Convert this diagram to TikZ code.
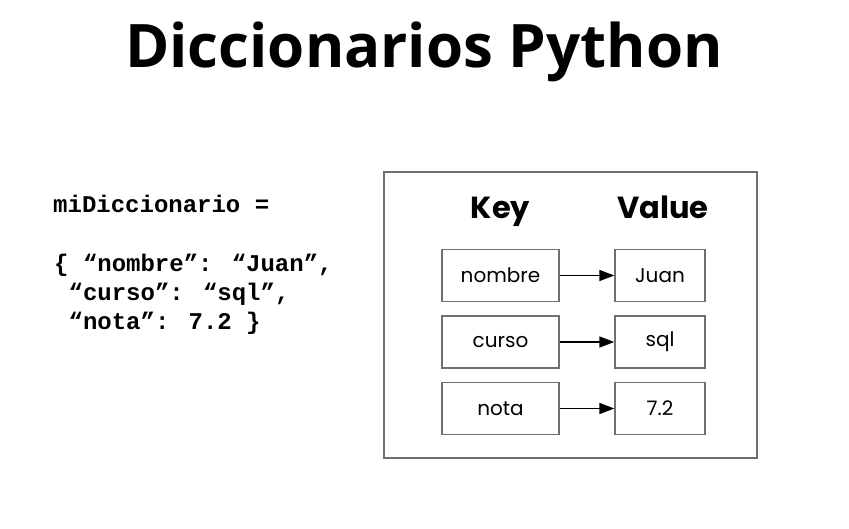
\documentclass[tikz,border=0pt]{standalone}
\usepackage{fontspec}
\setmainfont{Poppins}
\newfontfamily\titlefont{Open Sans}
\newfontfamily\codefont{Liberation Mono}
\usetikzlibrary{arrows.meta}
\definecolor{boxgray}{HTML}{707070}
\begin{document}
\begin{tikzpicture}[x=1pt,y=-1pt,
  cell/.style={draw=boxgray,line width=1.4pt,minimum width=117pt,minimum height=52pt,inner sep=0pt,font=\fontsize{20}{20}\selectfont},
  valcell/.style={cell,minimum width=90pt},
  link/.style={line width=1.6pt,-{Triangle[length=15pt,width=11pt]}},
  codeline/.style={anchor=base west,inner sep=0pt,font=\codefont\bfseries\fontsize{24}{24}\selectfont},
  heading/.style={anchor=base,inner sep=0pt,font=\bfseries\fontsize{30.5}{30}\selectfont}]
\useasboundingbox (0,0) rectangle (849,528);
\fill[white] (0,0) rectangle (849,528);

% title
\node[anchor=base,inner sep=0pt,font=\titlefont\bfseries\fontsize{60}{60}\selectfont] (title) at (424,67) {Diccionarios Python};

% code listing
\node[codeline] (c1) at (53,212) {miDiccionario =};
\node[codeline] (c2) at (54,271) {\{ “nombre”: “Juan”,};
\node[codeline] (c3) at (54,300) {\ “curso”: “sql”,};
\node[codeline] (c4) at (54,329) {\ “nota”: 7.2 \}};

% dictionary diagram
\node[draw=boxgray,line width=1.4pt,minimum width=373pt,minimum height=286pt,inner sep=0pt] (frame) at (570.5,315) {};
\node[heading] (key) at (500.5,218) {Key};
\node[heading] (value) at (663,218) {Value};

\node[cell] (k1) at (500.5,275.5) {nombre};
\node[cell] (k2) at (500.5,342) {curso};
\node[cell] (k3) at (500.5,408.5) {nota};
\node[valcell] (v1) at (660,275.5) {Juan};
\node[valcell] (v2) at (660,342) {sql};
\node[valcell] (v3) at (660,408.5) {7.2};

\draw[link] (k1) -- (v1);
\draw[link] (k2) -- (v2);
\draw[link] (k3) -- (v3);
\end{tikzpicture}
\end{document}
